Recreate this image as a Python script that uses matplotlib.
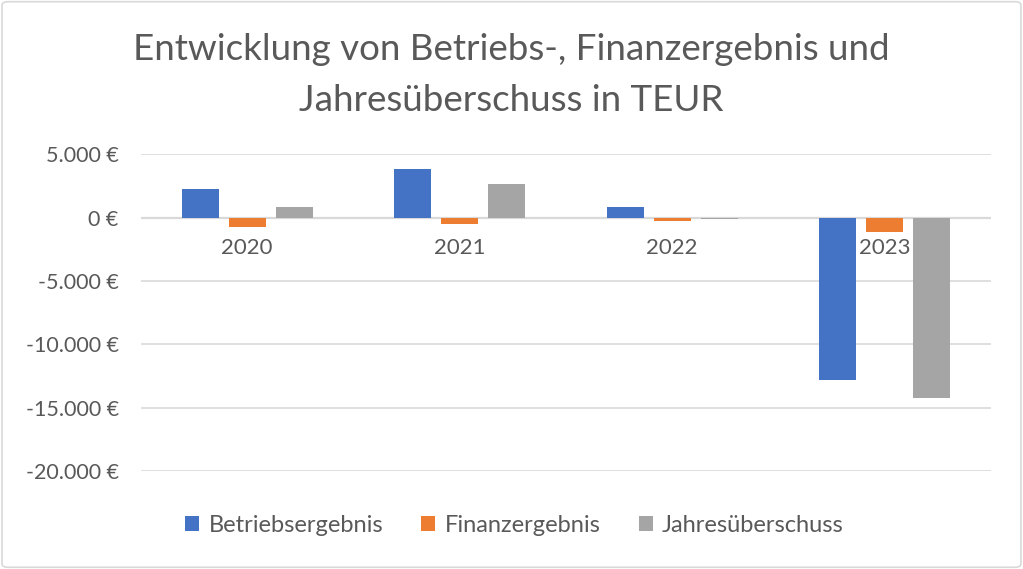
import matplotlib
matplotlib.use('Agg')
import matplotlib.pyplot as plt
from matplotlib.patches import FancyBboxPatch
import numpy as np

years = ['2020', '2021', '2022', '2023']
series = ['Betriebsergebnis', 'Finanzergebnis', 'Jahresüberschuss']
betriebsergebnis = [2240, 3820, 820, -12850]
finanzergebnis = [-730, -500, -260, -1130]
jahresueberschuss = [870, 2630, -110, -14220]
colors = ['#4472C4', '#ED7D31', '#A5A5A5']
yticks = [5000, 0, -5000, -10000, -15000, -20000]
ytick_labels = ['5.000 €', '0 €', '-5.000 €', '-10.000 €', '-15.000 €', '-20.000 €']

plt.rcParams['font.family'] = ['Lato', 'DejaVu Sans']
text_color = '#595959'
grid_color = '#D9D9D9'

fig = plt.figure(figsize=(10.23, 5.69), dpi=100)
ax = fig.add_axes([0.1378, 0.1722, 0.8309, 0.5566])

x = np.arange(len(years))
offsets = [-0.221, 0.0, 0.221]
width = 0.174
for values, off, col, name in zip([betriebsergebnis, finanzergebnis, jahresueberschuss],
                                   offsets, colors, series):
    ax.bar(x + off, values, width, color=col, label=name, zorder=3)

ax.set_xlim(-0.5, len(years) - 0.5)
ax.set_ylim(-20000, 5000)
ax.set_yticks(yticks)
ax.set_yticklabels(ytick_labels, fontsize=15.5, color=text_color)
ax.tick_params(axis='y', length=0, pad=16)
ax.set_xticks([])
ax.yaxis.grid(True, color=grid_color, linewidth=1.2, zorder=0)
ax.axhline(0, color=grid_color, linewidth=1.6, zorder=1)
for s in ax.spines.values():
    s.set_visible(False)

# year labels sit right under the zero line
for xi, yr in zip(x, years):
    ax.annotate(yr, (xi, 0), xytext=(0, -22), textcoords='offset points',
                ha='center', va='center', fontsize=16, color=text_color, zorder=4)

fig.text(0.5, 0.868, 'Entwicklung von Betriebs-, Finanzergebnis und\nJahresüberschuss in TEUR',
         ha='center', va='center', fontsize=26.5, color=text_color, linespacing=1.68)

fig.legend(loc='center', bbox_to_anchor=(0.503, 0.077), ncol=3, frameon=False,
           fontsize=17, handlelength=0.6, handleheight=0.6, columnspacing=1.6,
           handletextpad=0.4, labelcolor=text_color)

border = FancyBboxPatch((0.002, 0.003), 0.996, 0.994, boxstyle='round,pad=0,rounding_size=0.006',
                        transform=fig.transFigure, fill=False, edgecolor=grid_color, linewidth=1.2)
fig.patches.append(border)

fig.savefig('out.png', dpi=100)
